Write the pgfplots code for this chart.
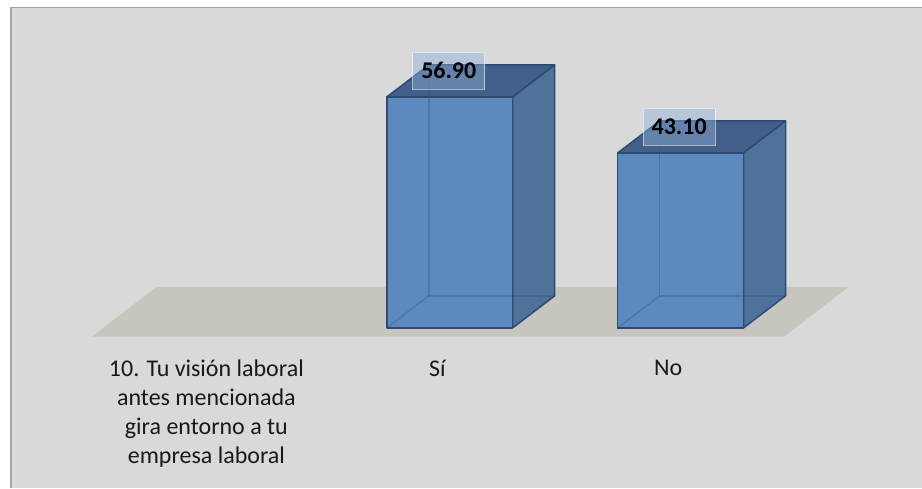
\documentclass[border=0pt]{standalone}
\usepackage{fontspec}
\setmainfont{Carlito}
\usepackage{pgfplots}
\pgfplotsset{compat=1.18}
\definecolor{panel}{HTML}{D9D9D9}
\definecolor{panelline}{HTML}{A6A6A6}
\definecolor{floorc}{HTML}{C8C5BE}
\definecolor{barfront}{HTML}{5C8ABF}
\definecolor{barside}{HTML}{4F729B}
\definecolor{bartop}{HTML}{42608A}
\definecolor{baredge}{HTML}{2C4A73}
\definecolor{labelfill}{HTML}{8FAFD7}
\begin{document}
\begin{tikzpicture}
\begin{axis}[
    scale only axis,
    width=922pt,height=488pt,
    xmin=-0.9481,xmax=3.0433,
    ymin=-39.41,ymax=80.79,
    axis on top,
    axis x line=middle,
    axis y line=none,
    axis line style={draw=none},
    major tick length=0pt,
    xtick={0,1,2},
    xticklabels={{10. Tu visión laboral\\antes mencionada\\gira entorno a tu\\empresa laboral},Sí,No},
    xticklabel style={align=center,anchor=north,yshift=-29pt,xshift=-12.5pt,
        font=\fontsize{24}{29}\selectfont,text=black!90},
    clip=false,
    ]
    % page, panel and floor
    \addplot[fill=white,draw=none] coordinates {(-0.9481,-39.41)(-0.9481,80.79)(3.0433,80.79)(3.0433,-39.41)} --cycle;
    \addplot[fill=panel,draw=none] coordinates {(-0.9048,-39.41)(-0.9048,79.06)(3.0433,79.06)(3.0433,-39.41)} --cycle;
    \addplot[draw=panelline,line width=2pt] coordinates {(-0.9005,-39.41)(-0.9005,79.06)};
    \addplot[draw=panelline,line width=1pt] coordinates {(-0.9048,79.0)(3.0433,79.0)};
    \addplot[fill=floorc,draw=none] coordinates {(-0.5498,-2.14)(-0.2684,10.1)(2.727,10.1)(2.450,-2.14)} --cycle;

    % Si
    \addplot[fill=bartop,draw=baredge,line width=1.5pt,line join=round] coordinates {(0.7273,56.9)(0.9091,64.78)(1.4545,64.78)(1.2727,56.9)} --cycle;
    \addplot[fill=barside,draw=baredge,line width=1.5pt,line join=round] coordinates {(1.2727,0)(1.4545,7.88)(1.4545,64.78)(1.2727,56.9)} --cycle;
    \addplot[fill=barfront,draw=baredge,line width=1.5pt,line join=round] coordinates {(0.7273,0)(0.7273,56.9)(1.2727,56.9)(1.2727,0)} --cycle;
    \addplot[draw=baredge,draw opacity=.3,line width=1.5pt] coordinates {(0.9091,64.78)(0.9091,7.88)(1.4545,7.88)};
    \addplot[draw=baredge,draw opacity=.3,line width=1.5pt] coordinates {(0.7273,0)(0.9091,7.88)};

    % No
    \addplot[fill=bartop,draw=baredge,line width=1.5pt,line join=round] coordinates {(1.7273,43.1)(1.9091,50.98)(2.4545,50.98)(2.2727,43.1)} --cycle;
    \addplot[fill=barside,draw=baredge,line width=1.5pt,line join=round] coordinates {(2.2727,0)(2.4545,7.88)(2.4545,50.98)(2.2727,43.1)} --cycle;
    \addplot[fill=barfront,draw=baredge,line width=1.5pt,line join=round] coordinates {(1.7273,0)(1.7273,43.1)(2.2727,43.1)(2.2727,0)} --cycle;
    \addplot[draw=baredge,draw opacity=.3,line width=1.5pt] coordinates {(1.9091,50.98)(1.9091,7.88)(2.4545,7.88)};
    \addplot[draw=baredge,draw opacity=.3,line width=1.5pt] coordinates {(1.7273,0)(1.9091,7.88)};

    % data labels
    \addplot[draw=none,point meta=explicit symbolic,nodes near coords,
        nodes near coords align={center},
        every node near coord/.append style={anchor=center,font=\fontsize{24}{26}\selectfont\bfseries,
            text=black,fill=labelfill,fill opacity=.45,text opacity=1,
            draw=white,draw opacity=.55,line width=1pt,
            minimum width=72pt,minimum height=37pt,inner sep=0pt}]
        coordinates {(0.9957,63.4)[56.90] (1.9935,49.5)[43.10]};
\end{axis}
\end{tikzpicture}
\end{document}
